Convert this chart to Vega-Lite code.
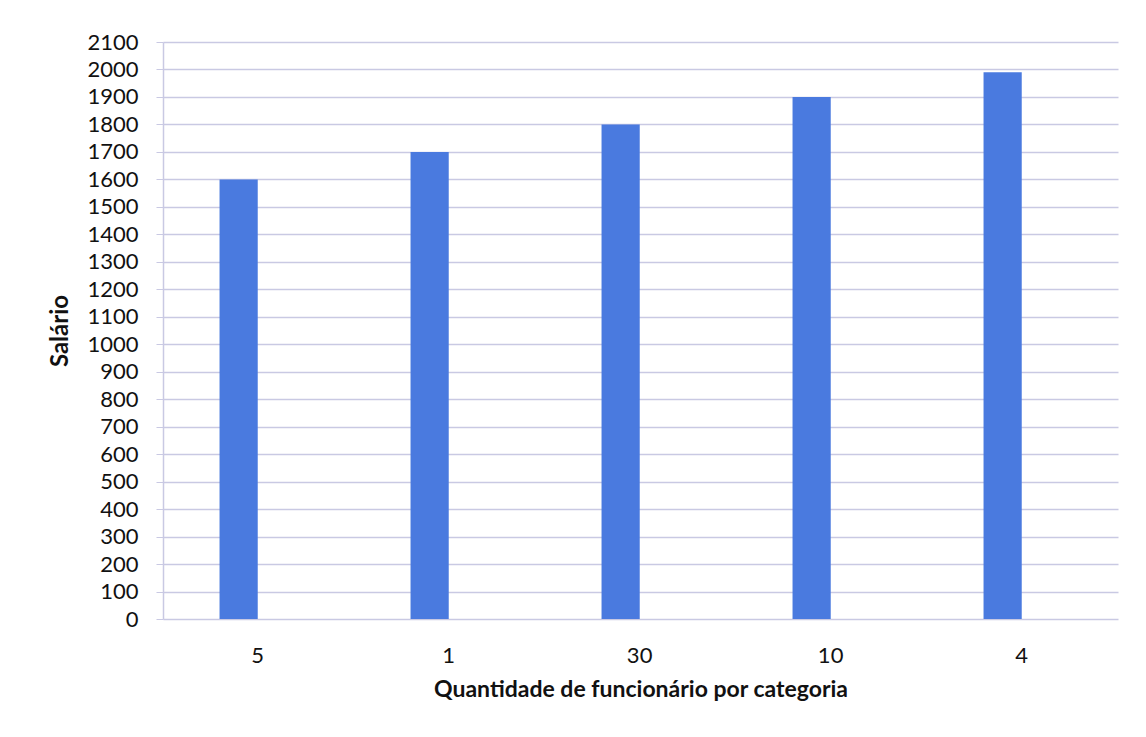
{
  "$schema": "https://vega.github.io/schema/vega-lite/v6.json",
  "autosize": {"type": "none"},
  "width": 955,
  "height": 577,
  "padding": {"left": 163, "top": 42, "right": 28, "bottom": 118},
  "background": "white",
  "config": {"view": {"stroke": null}, "font": "Lato"},
  "data": {"values": [
    {"categoria": "5", "salario": 1600},
    {"categoria": "1", "salario": 1700},
    {"categoria": "30", "salario": 1800},
    {"categoria": "10", "salario": 1900},
    {"categoria": "4", "salario": 1990}
  ]},
  "mark": {"type": "bar", "color": "#4a7adf"},
  "encoding": {
    "x": {
      "field": "categoria", "type": "nominal", "sort": null,
      "scale": {"paddingInner": 0.8, "paddingOuter": 0.4, "align": 0.37},
      "axis": {
        "title": "Quantidade de funcionário por categoria",
        "titleFont": "Lato", "titleFontSize": 23, "titleFontWeight": "bold", "titleColor": "#111",
        "titlePadding": 12,
        "labelAngle": 0, "labelFontSize": 22, "labelColor": "#111", "labelPadding": 26, "labelOffset": 19,
        "domain": false, "ticks": false, "grid": false
      }
    },
    "y": {
      "field": "salario", "type": "quantitative",
      "scale": {"domain": [0, 2100], "nice": false},
      "axis": {
        "title": "Salário",
        "titleFont": "Lato", "titleFontSize": 24, "titleFontWeight": "bold", "titleColor": "#111",
        "titlePadding": 14,
        "format": "d",
        "values": [0,100,200,300,400,500,600,700,800,900,1000,1100,1200,1300,1400,1500,1600,1700,1800,1900,2000,2100],
        "labelFontSize": 22, "labelColor": "#111", "labelPadding": 18,
        "domain": true, "domainColor": "#c9c9e3", "domainWidth": 1.5,
        "ticks": true, "tickColor": "#c9c9e3", "tickSize": 7,
        "grid": true, "gridColor": "#c9c9e3", "gridWidth": 1.5
      }
    }
  }
}
